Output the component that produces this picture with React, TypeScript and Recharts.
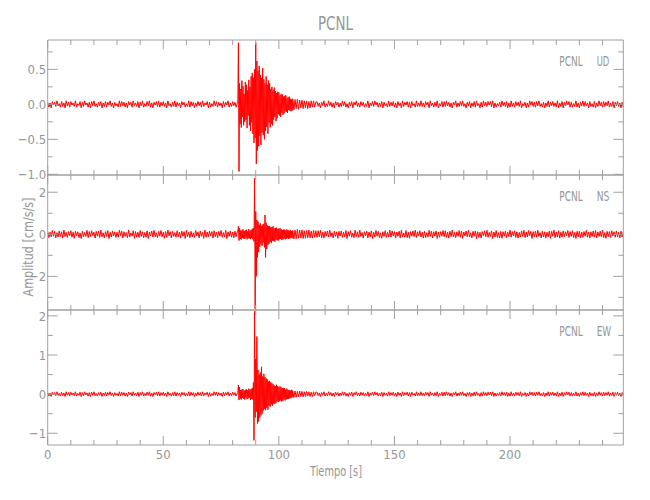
import React from "react";
import { LineChart, Line, XAxis, YAxis } from "recharts";

// sampling of the records (s)
const quietStep = 0.5;
const burstStart = 82.25;
const burstStep = 0.25;
const codaStart = 106.5;
const codaStep = 0.5;

const timeTicks = [0, 10, 20, 30, 40, 50, 60, 70, 80, 90, 100, 110, 120, 130, 140, 150, 160, 170, 180, 190, 200, 210, 220, 230, 240];

// UD component [cm/s/s]
const udQuiet = [
  .03, -.04, .02, -.05, .04, -.01, .03, -.03, .05, -.02,
  .01, -.04, .04, -.03, .02, -.05, .05, -.02, .03, -.04,
  .04, -.01, .02, -.03, .05, -.04, .01, -.02, .04, -.05,
  .03, -.03, .05, -.01, .02, -.04, .03, -.05, .04, -.02,
  .05, -.03, .01, -.04, .03, -.02, .04, -.05, .02, -.03,
  .04, -.04, .03, -.01, .05, -.03, .02, -.05, .03, -.02,
  .01, -.04, .05, -.03, .04, -.02, .03, -.04, .02, -.05,
  .04, -.01, .03, -.04, .05, -.02, .02, -.03, .04, -.05,
  .03, -.02, .05, -.04, .01, -.03, .04, -.02, .05, -.04,
  .02, -.05, .03, -.01, .04, -.03, .05, -.04, .03, -.02,
  .04, -.03, .02, -.05, .05, -.02, .01, -.04, .03, -.03,
  .05, -.04, .03, -.02, .02, -.05, .04, -.01, .03, -.04,
  .01, -.03, .05, -.04, .04, -.02, .03, -.05, .02, -.03,
  .04, -.02, .03, -.04, .05, -.03, .02, -.01, .04, -.05,
  .03, -.04, .01, -.03, .05, -.02, .04, -.04, .03, -.02,
  .02, -.05, .04, -.03, .03, -.01, .05, -.04, .02, -.03,
  .04, -.02, .03, -.04, .02,
];
const udBurst = [
  .02, .88, -.96, .3, -.28, .22, -.33, .34,
  -.18, .26, -.3, .15, -.25, .32, -.22, .28,
  -.34, .2, -.16, .35, -.3, .25, -.38, .4,
  -.26, .45, -.42, .38, -.55, .5, -.48, .88,
  -.85, .62, -.66, .48, -.6, .55, -.45, .42,
  -.58, .38, -.4, .52, -.44, .36, -.5, .3,
  -.38, .4, -.32, .28, -.42, .34, -.26, .3,
  -.33, .22, -.28, .25, -.3, .2, -.22, .24,
  -.18, .19, -.24, .16, -.2, .18, -.14, .17,
  -.16, .13, -.18, .15, -.12, .14, -.15, .11,
  -.13, .12, -.1, .13, -.11, .09, -.12, .1,
  -.08, .11, -.09, .08, -.1, .07, -.09, .08,
];
const udCoda = [
  -.08, .07, -.06, .07, -.07, .06, -.05, .06, -.06, .05,
  -.05, .05, -.06, .04, -.05, .05, -.04, .05, -.04, .03,
  .04, -.03, .02, -.05, .03, -.02, .05, -.04, .01, -.03,
  .05, -.02, .03, -.04, .02, -.05, .04, -.01, .03, -.04,
  .02, -.03, .05, -.02, .04, -.04, .01, -.05, .03, -.02,
  .04, -.05, .03, -.01, .05, -.03, .02, -.04, .04, -.02,
  .03, -.04, .01, -.03, .05, -.05, .02, -.02, .04, -.03,
  .05, -.01, .03, -.04, .02, -.03, .04, -.05, .03, -.02,
  .01, -.04, .05, -.03, .03, -.02, .04, -.04, .02, -.05,
  .04, -.02, .02, -.05, .05, -.03, .03, -.01, .04, -.04,
  .03, -.05, .04, -.02, .01, -.04, .05, -.03, .02, -.03,
  .05, -.03, .02, -.04, .04, -.01, .03, -.05, .05, -.02,
  .02, -.04, .03, -.03, .05, -.05, .01, -.02, .04, -.04,
  .04, -.03, .05, -.02, .03, -.04, .02, -.05, .03, -.01,
  .05, -.04, .02, -.03, .04, -.02, .05, -.03, .01, -.05,
  .03, -.02, .04, -.05, .02, -.03, .04, -.04, .05, -.02,
  .01, -.05, .03, -.04, .05, -.02, .03, -.03, .04, -.01,
  .04, -.03, .05, -.05, .02, -.04, .01, -.02, .03, -.04,
  .05, -.02, .03, -.03, .04, -.05, .02, -.04, .05, -.03,
  .02, -.04, .04, -.02, .03, -.03, .05, -.05, .01, -.02,
  .03, -.05, .02, -.04, .05, -.01, .04, -.03, .03, -.04,
  .04, -.02, .05, -.03, .01, -.04, .03, -.05, .02, -.03,
  .05, -.04, .03, -.02, .04, -.03, .02, -.04, .05, -.05,
  .02, -.03, .04, -.05, .03, -.02, .05, -.01, .04, -.04,
  .03, -.04, .01, -.03, .05, -.04, .02, -.05, .03, -.02,
  .05, -.03, .04, -.02, .02, -.05, .04, -.03, .01, -.04,
  .04, -.05, .02, -.03, .05, -.02, .03, -.04, .04, -.03,
  .03, -.02, .05, -.04, .02, -.03, .04, -.05, .03, -.02,
  .04, -.03, .02, -.05, .03, -.04,
];

// NS component
const nsQuiet = [
  .14, -.16, .1, -.12, .18, -.09, .15, -.17, .08, -.13,
  .16, -.1, .12, -.18, .2, -.11, .09, -.15, .13, -.07,
  .17, -.14, .1, -.19, .15, -.08, .12, -.16, .06, -.2,
  .15, -.12, .09, -.1, .19, -.16, .13, -.11, .17, -.06,
  .1, -.18, .14, -.09, .16, -.15, .2, -.12, .07, -.17,
  .13, -.1, .18, -.2, .09, -.13, .16, -.08, .12, -.15,
  .1, -.14, .19, -.06, .15, -.18, .12, -.1, .08, -.16,
  .2, -.12, .06, -.09, .17, -.19, .13, -.14, .1, -.15,
  .18, -.1, .12, -.17, .09, -.14, .16, -.2, .11, -.08,
  .15, -.13, .19, -.11, .07, -.16, .14, -.09, .18, -.12,
  .1, -.19, .13, -.15, .2, -.07, .12, -.17, .16, -.1,
  .08, -.14, .17, -.12, .11, -.18, .15, -.09, .13, -.2,
  .19, -.11, .1, -.16, .14, -.13, .07, -.15, .18, -.08,
  .12, -.17, .16, -.1, .09, -.19, .2, -.14, .11, -.12,
  .15, -.08, .13, -.18, .17, -.11, .1, -.16, .14, -.09,
  .18, -.15, .08, -.13, .19, -.2, .12, -.1, .16, -.14,
  .11, -.17, .15, -.12, .13,
];
const nsBurst = [
  .12, .38, -.3, .28, -.22, .18, -.25, .2,
  -.18, .24, -.2, .15, -.22, .19, -.16, .22,
  -.24, .14, -.19, .25, -.2, .17, -.23, .21,
  -.18, .26, -.24, .3, -.35, 2.67, -3.55, 1.08,
  -2.0, .68, -1.1, .6, -.85, .45, -.6, .52,
  -.48, .4, -.55, .46, -.38, .5, -.62, .92,
  -1.1, .55, -.7, .42, -.5, .38, -.45, .4,
  -.36, .33, -.42, .35, -.3, .38, -.32, .28,
  -.35, .3, -.26, .32, -.28, .25, -.3, .27,
  -.24, .29, -.22, .24, -.26, .2, -.25, .23,
  -.2, .22, -.24, .19, -.21, .23, -.18, .2,
  -.22, .17, -.2, .21, -.18, .16, -.19, .18,
];
const nsCoda = [
  -.22, .2, -.21, .23, -.19, .2, -.18, .21, -.2, .17,
  -.19, .18, -.16, .2, -.17, .15, -.18, .19, -.14, .17,
  -.15, .17, -.12, .19, -.16, .1, -.18, .14, -.09, .16,
  -.13, .2, -.11, .08, -.17, .15, -.1, .12, -.19, .14,
  -.08, .16, -.15, .1, -.12, .18, -.2, .13, -.09, .17,
  -.14, .06, -.16, .19, -.11, .12, -.15, .2, -.1, .09,
  -.18, .13, -.07, .15, -.17, .11, -.12, .16, -.2, .1,
  -.13, .18, -.09, .14, -.16, .07, -.19, .12, -.1, .17,
  -.15, .09, -.12, .2, -.14, .16, -.08, .13, -.18, .11,
  -.1, .15, -.17, .19, -.12, .06, -.14, .18, -.16, .1,
  -.19, .13, -.09, .16, -.11, .2, -.15, .12, -.07, .17,
  -.13, .1, -.18, .14, -.16, .08, -.12, .19, -.1, .15,
  -.17, .12, -.08, .16, -.2, .11, -.14, .13, -.09, .18,
  -.12, .17, -.15, .1, -.18, .14, -.11, .2, -.13, .09,
  -.16, .12, -.1, .18, -.14, .15, -.19, .11, -.08, .16,
  -.11, .19, -.13, .07, -.17, .14, -.09, .16, -.2, .12,
  -.15, .1, -.18, .13, -.06, .17, -.12, .19, -.14, .09,
  -.1, .16, -.2, .11, -.13, .18, -.15, .08, -.17, .14,
  -.19, .12, -.09, .15, -.16, .1, -.11, .2, -.14, .13,
  -.08, .17, -.15, .12, -.18, .09, -.13, .16, -.1, .19,
  -.16, .11, -.12, .18, -.07, .14, -.2, .13, -.11, .15,
  -.14, .19, -.1, .08, -.17, .16, -.13, .12, -.18, .1,
  -.12, .15, -.19, .14, -.09, .2, -.16, .11, -.13, .17,
  -.18, .1, -.14, .16, -.11, .12, -.08, .18, -.15, .13,
  -.1, .17, -.16, .09, -.2, .14, -.12, .15, -.17, .11,
  -.15, .13, -.09, .19, -.14, .1, -.18, .12, -.11, .16,
  -.13, .18, -.17, .11, -.1, .15, -.12, .2, -.16, .08,
  -.19, .14, -.11, .13, -.15, .17, -.08, .12, -.14, .16,
  -.12, .1, -.17, .15, -.13, .11,
];

// EW component
const ewQuiet = [
  .04, -.05, .03, -.06, .05, -.02, .04, -.04, .06, -.03,
  .02, -.05, .05, -.04, .03, -.06, .06, -.03, .04, -.05,
  .05, -.02, .03, -.04, .06, -.05, .02, -.03, .05, -.06,
  .04, -.04, .06, -.02, .03, -.05, .04, -.06, .05, -.03,
  .06, -.04, .02, -.05, .04, -.03, .05, -.06, .03, -.04,
  .05, -.05, .04, -.02, .06, -.04, .03, -.06, .04, -.03,
  .02, -.05, .06, -.04, .05, -.03, .04, -.05, .03, -.06,
  .05, -.02, .04, -.05, .06, -.03, .03, -.04, .05, -.06,
  .04, -.03, .06, -.05, .02, -.04, .05, -.03, .06, -.05,
  .03, -.06, .04, -.02, .05, -.04, .06, -.05, .04, -.03,
  .05, -.04, .03, -.06, .06, -.03, .02, -.05, .04, -.04,
  .06, -.05, .04, -.03, .03, -.06, .05, -.02, .04, -.05,
  .02, -.04, .06, -.05, .05, -.03, .04, -.06, .03, -.04,
  .05, -.03, .04, -.05, .06, -.04, .03, -.02, .05, -.06,
  .04, -.05, .02, -.04, .06, -.03, .05, -.05, .04, -.03,
  .03, -.06, .05, -.04, .04, -.02, .06, -.05, .03, -.04,
  .05, -.03, .04, -.05, .03,
];
const ewBurst = [
  .04, .23, -.15, .18, -.12, .1, -.14, .12,
  -.1, .13, -.12, .09, -.14, .11, -.08, .12,
  -.13, .1, -.11, .14, -.09, .12, -.15, .13,
  -.12, .16, -.14, .3, -1.18, 2.12, -.6, .9,
  -.45, 1.47, -.75, .62, -.7, .5, -.6, .55,
  -.54, .7, -.5, .45, -.42, .52, -.38, .44,
  -.41, .4, -.35, .38, -.4, .32, -.3, .34,
  -.32, .3, -.26, .28, -.3, .25, -.24, .22,
  -.25, .2, -.22, .24, -.19, .21, -.2, .18,
  -.18, .2, -.16, .17, -.19, .15, -.17, .16,
  -.14, .15, -.16, .12, -.13, .14, -.12, .11,
  -.12, .1, -.11, .09, -.1, .11, -.08, .09,
];
const ewCoda = [
  -.09, .08, -.08, .07, -.07, .08, -.06, .07, -.07, .06,
  -.06, .07, -.05, .06, -.06, .05, -.06, .06, -.04, .05,
  .05, -.04, .03, -.06, .04, -.03, .06, -.05, .02, -.04,
  .06, -.03, .04, -.05, .03, -.06, .05, -.02, .04, -.05,
  .03, -.04, .06, -.03, .05, -.05, .02, -.06, .04, -.03,
  .05, -.06, .04, -.02, .06, -.04, .03, -.05, .05, -.03,
  .04, -.05, .02, -.04, .06, -.06, .03, -.03, .05, -.04,
  .06, -.02, .04, -.05, .03, -.04, .05, -.06, .04, -.03,
  .02, -.05, .06, -.04, .04, -.03, .05, -.05, .03, -.06,
  .05, -.03, .03, -.06, .06, -.04, .04, -.02, .05, -.05,
  .04, -.06, .05, -.03, .02, -.05, .06, -.04, .03, -.04,
  .06, -.04, .03, -.05, .05, -.02, .04, -.06, .06, -.03,
  .03, -.05, .04, -.04, .06, -.06, .02, -.03, .05, -.05,
  .05, -.04, .06, -.03, .04, -.05, .03, -.06, .04, -.02,
  .06, -.05, .03, -.04, .05, -.03, .06, -.04, .02, -.06,
  .04, -.03, .05, -.06, .03, -.04, .05, -.05, .06, -.03,
  .02, -.06, .04, -.05, .06, -.03, .04, -.04, .05, -.02,
  .05, -.04, .06, -.06, .03, -.05, .02, -.03, .04, -.05,
  .06, -.03, .04, -.04, .05, -.06, .03, -.05, .06, -.04,
  .03, -.05, .05, -.03, .04, -.04, .06, -.06, .02, -.03,
  .04, -.06, .03, -.05, .06, -.02, .05, -.04, .04, -.05,
  .05, -.03, .06, -.04, .02, -.05, .04, -.06, .03, -.04,
  .06, -.05, .04, -.03, .05, -.04, .03, -.05, .06, -.06,
  .03, -.04, .05, -.06, .04, -.03, .06, -.02, .05, -.05,
  .04, -.05, .02, -.04, .06, -.05, .03, -.06, .04, -.03,
  .06, -.04, .05, -.03, .03, -.06, .05, -.04, .02, -.05,
  .05, -.06, .03, -.04, .06, -.03, .04, -.05, .05, -.04,
  .04, -.03, .06, -.05, .03, -.04, .05, -.06, .04, -.03,
  .05, -.04, .03, -.06, .04, -.05,
];

const udTicks = [-1, -0.75, -0.5, -0.25, 0, 0.25, 0.5, 0.75];
const nsTicks = [-3, -2, -1, 0, 1, 2];
const ewTicks = [-1, -0.5, 0, 0.5, 1, 1.5, 2];

const FONT = "'Liberation Sans Narrow', 'DejaVu Sans Condensed', 'Liberation Sans', sans-serif";
const TEXT = "#969696";
const AXIS = "#a0a0a0";
const RED = "#ff0000";

const PLOT_LEFT = 47.7;
const PLOT_RIGHT = 623.3;

function buildRecord(quiet: number[], burst: number[], coda: number[]) {
  const rows: { t: number; v: number }[] = [];
  quiet.forEach((v, i) => rows.push({ t: i * quietStep, v }));
  burst.forEach((v, i) => rows.push({ t: burstStart + i * burstStep, v }));
  coda.forEach((v, i) => rows.push({ t: codaStart + i * codaStep, v }));
  return rows;
}

const isMajor = (v: number, step: number) => Math.abs(v / step - Math.round(v / step)) < 1e-6;
const minus = (s: string, v: number) => (v < 0 ? "\u2212" + s : s);

type Panel = {
  comp: string;
  top: number;
  bottom: number;
  domain: [number, number];
  ticks: number[];
  major: number;
  fmt: (v: number) => string;
  data: { t: number; v: number }[];
  showTime: boolean;
};

const panels: Panel[] = [
  {
    comp: "UD", top: 40, bottom: 175, domain: [-1.01, 0.92], ticks: udTicks, major: 0.5,
    fmt: (v) => minus(Math.abs(v).toFixed(1), v), data: buildRecord(udQuiet, udBurst, udCoda), showTime: false,
  },
  {
    comp: "NS", top: 175, bottom: 310, domain: [-3.6, 2.82], ticks: nsTicks, major: 2,
    fmt: (v) => minus(String(Math.abs(v)), v), data: buildRecord(nsQuiet, nsBurst, nsCoda), showTime: false,
  },
  {
    comp: "EW", top: 310, bottom: 445, domain: [-1.3, 2.15], ticks: ewTicks, major: 1,
    fmt: (v) => minus(String(Math.abs(v)), v), data: buildRecord(ewQuiet, ewBurst, ewCoda), showTime: true,
  },
];

function xTick(side: "top" | "bottom", labels: boolean) {
  return (props: any) => {
    const { x, y, payload } = props;
    const v = payload.value;
    const big = isMajor(v, 50);
    const len = big ? 9 : 5;
    const dir = side === "bottom" ? -1 : 1;
    return (
      <g>
        <line x1={x} x2={x} y1={y} y2={y + dir * len} stroke={AXIS} strokeWidth={1} />
        {labels && big && (
          <text x={x} y={y + 13.5} textAnchor="middle" fontFamily={FONT} fontSize={13} fill={TEXT}>
            {v}
          </text>
        )}
      </g>
    );
  };
}

function yTick(side: "left" | "right", p: Panel) {
  return (props: any) => {
    const { x, y, payload } = props;
    const v = payload.value;
    const big = isMajor(v, p.major);
    const len = big ? 10 : 5;
    const dir = side === "left" ? 1 : -1;
    return (
      <g>
        <line x1={x} x2={x + dir * len} y1={y} y2={y} stroke={AXIS} strokeWidth={1} />
        {side === "left" && big && (
          <text x={x - 1.5} y={y} dy="0.36em" textAnchor="end" fontFamily={FONT} fontSize={13} fill={TEXT}>
            {p.fmt(v)}
          </text>
        )}
      </g>
    );
  };
}

function PanelChart({ p }: { p: Panel }) {
  return (
    <div style={{ position: "absolute", left: 0, top: 0 }}>
      <LineChart
        width={650}
        height={500}
        data={p.data}
        margin={{ top: p.top - 1, bottom: 500 - p.bottom - 1, left: PLOT_LEFT - 1, right: 650 - PLOT_RIGHT - 1 }}
      >
        <XAxis
          xAxisId="b"
          dataKey="t"
          type="number"
          domain={[0, 249]}
          allowDataOverflow
          ticks={timeTicks}
          interval={0}
          height={1}
          tickSize={0}
          tickMargin={0}
          tickLine={false}
          axisLine={{ stroke: AXIS }}
          tick={xTick("bottom", p.showTime)}
        />
        <XAxis
          xAxisId="t"
          orientation="top"
          dataKey="t"
          type="number"
          domain={[0, 249]}
          allowDataOverflow
          ticks={timeTicks}
          interval={0}
          height={1}
          tickSize={0}
          tickMargin={0}
          tickLine={false}
          axisLine={{ stroke: AXIS }}
          tick={xTick("top", false)}
        />
        <YAxis
          yAxisId="l"
          type="number"
          domain={p.domain}
          allowDataOverflow
          ticks={p.ticks}
          interval={0}
          width={1}
          tickSize={0}
          tickMargin={0}
          tickLine={false}
          axisLine={{ stroke: AXIS }}
          tick={yTick("left", p)}
        />
        <YAxis
          yAxisId="r"
          orientation="right"
          type="number"
          domain={p.domain}
          allowDataOverflow
          ticks={p.ticks}
          interval={0}
          width={1}
          tickSize={0}
          tickMargin={0}
          tickLine={false}
          axisLine={{ stroke: AXIS }}
          tick={yTick("right", p)}
        />
        <Line
          xAxisId="b"
          yAxisId="l"
          dataKey="v"
          type="linear"
          stroke={RED}
          strokeWidth={1}
          dot={false}
          isAnimationActive={false}
        />
      </LineChart>
    </div>
  );
}

export default function App() {
  return (
    <div style={{ position: "absolute", left: 0, top: 0, width: 650, height: 500, background: "#fff" }}>
      {panels.map((p) => (
        <PanelChart key={p.comp} p={p} />
      ))}
      <svg width={650} height={500} style={{ position: "absolute", left: 0, top: 0, pointerEvents: "none" }}>
        <text x={335.5} y={30} textAnchor="middle" fontFamily={FONT} fontSize={19} fill={TEXT} textLength={35} lengthAdjust="spacingAndGlyphs">
          PCNL
        </text>
        {panels.map((p) => (
          <text key={p.comp} y={p.top + 26} fontFamily={FONT} fontSize={14} fill={TEXT}>
            <tspan x={559.3} textLength={23.4} lengthAdjust="spacingAndGlyphs">PCNL</tspan>
            <tspan x={596.7} textLength={p.comp === "EW" ? 14.5 : 12.6} lengthAdjust="spacingAndGlyphs">{p.comp}</tspan>
          </text>
        ))}
        <text
          transform="translate(33,247) rotate(-90)"
          textAnchor="middle"
          fontFamily={FONT}
          fontSize={14}
          fill={TEXT}
          textLength={99}
          lengthAdjust="spacingAndGlyphs"
        >
          Amplitud [cm/s/s]
        </text>
        <text x={336} y={476} textAnchor="middle" fontFamily={FONT} fontSize={14} fill={TEXT} textLength={52} lengthAdjust="spacingAndGlyphs">
          Tiempo [s]
        </text>
      </svg>
    </div>
  );
}
